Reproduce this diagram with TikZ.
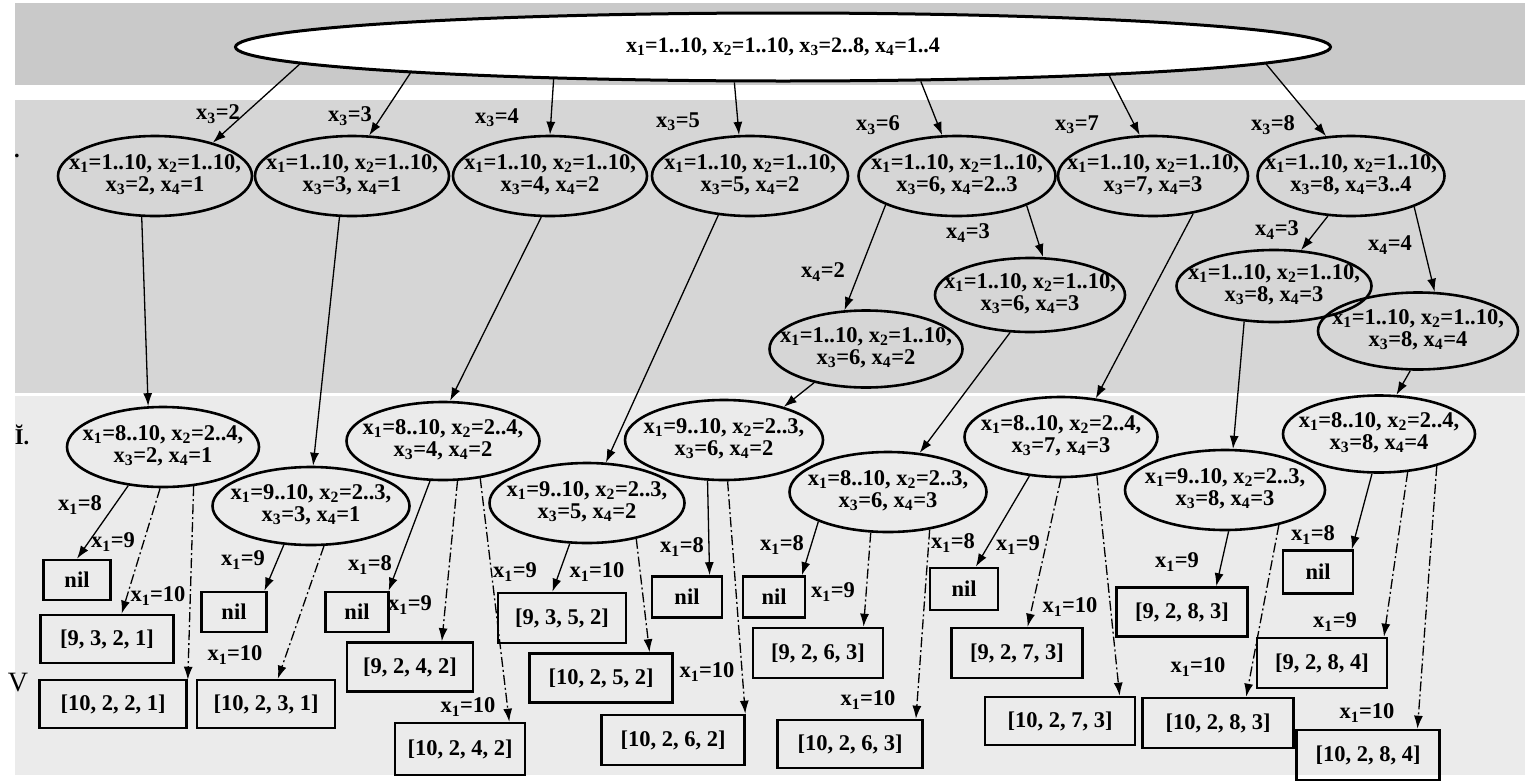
\documentclass[tikz,border=0pt]{standalone}
\usepackage{fontspec}
\setmainfont{Liberation Serif}
\usetikzlibrary{shapes.geometric,arrows.meta}
\newcommand\xv[1]{x\textsubscript{#1}}
\newcommand\twol[2]{\makebox[0pt]{\begin{tabular}{@{}c@{}}#1\\#2\end{tabular}}}
\newcommand\mainfnt{\fontsize{22.5}{21.5}\selectfont\bfseries}
\tikzset{
  ell/.style={draw, ellipse, line width=2.6pt, inner sep=0pt, font=\mainfnt},
  leaf/.style={draw, rectangle, line width=2.6pt, inner sep=0pt, font=\mainfnt},
  esz/.style 2 args={minimum width=#1pt, minimum height=#2pt},
  lbl/.style={inner sep=0pt, font=\mainfnt},
  arr/.style={-{Latex[length=13pt,width=9pt]}, line width=1.3pt},
  darr/.style={arr, dash pattern=on 10pt off 3pt on 2pt off 3pt},
}
\begin{document}
\begin{tikzpicture}[x=1pt,y=-1pt]
\useasboundingbox (0,0) rectangle (1529,782);
\fill[white] (0,0) rectangle (1529,782);
% background bands
\fill[gray!42] (15,3) rectangle (1525,85);
\fill[gray!32] (15,100) rectangle (1525,393);
\fill[gray!16] (15,396) rectangle (1525,775);

% side marks
\node[lbl] (mdot) at (17,156) {.};
\node[lbl] (mI) at (22,435) {\u{I}.};
\node[lbl, font=\fontsize{28}{28}\selectfont] (mV) at (18,683) {V};

% root
\node[ell, fill=white, line width=3pt, esz={1095}{68}, font=\fontsize{22}{22}\selectfont\bfseries] (root) at (783,47)
  {\makebox[0pt]{\xv1=1..10, \xv2=1..10, \xv3=2..8, \xv4=1..4}};

% level 1
\node[ell, esz={194}{80}] (n2) at (155,176) {\twol{\xv1=1..10, \xv2=1..10,}{\xv3=2, \xv4=1}};
\node[ell, esz={194}{80}] (n3) at (352,176) {\twol{\xv1=1..10, \xv2=1..10,}{\xv3=3, \xv4=1}};
\node[ell, esz={194}{80}] (n4) at (550,176) {\twol{\xv1=1..10, \xv2=1..10,}{\xv3=4, \xv4=2}};
\node[ell, esz={196}{80}] (n5) at (750,176) {\twol{\xv1=1..10, \xv2=1..10,}{\xv3=5, \xv4=2}};
\node[ell, esz={197}{80}] (n6) at (957,176) {\twol{\xv1=1..10, \xv2=1..10,}{\xv3=6, \xv4=2..3}};
\node[ell, esz={190}{80}] (n7) at (1153,176) {\twol{\xv1=1..10, \xv2=1..10,}{\xv3=7, \xv4=3}};
\node[ell, esz={187}{80}] (n8) at (1351,176) {\twol{\xv1=1..10, \xv2=1..10,}{\xv3=8, \xv4=3..4}};

% middle
\node[ell, esz={193}{77}] (m62) at (866,349) {\twol{\xv1=1..10, \xv2=1..10,}{\xv3=6, \xv4=2}};
\node[ell, esz={190}{74}] (m63) at (1030,295) {\twol{\xv1=1..10, \xv2=1..10,}{\xv3=6, \xv4=3}};
\node[ell, esz={195}{72}] (m83) at (1274,286) {\twol{\xv1=1..10, \xv2=1..10,}{\xv3=8, \xv4=3}};
\node[ell, esz={200}{77}] (m84) at (1418,331) {\twol{\xv1=1..10, \xv2=1..10,}{\xv3=8, \xv4=4}};

% level 2
\node[ell, esz={192}{80}] (A) at (163,447) {\twol{\xv1=8..10, \xv2=2..4,}{\xv3=2, \xv4=1}};
\node[ell, esz={197}{78}] (B) at (311,506) {\twol{\xv1=9..10, \xv2=2..3,}{\xv3=3, \xv4=1}};
\node[ell, esz={193}{78}] (C) at (443,441) {\twol{\xv1=8..10, \xv2=2..4,}{\xv3=4, \xv4=2}};
\node[ell, esz={195}{80}] (D) at (587,503) {\twol{\xv1=9..10, \xv2=2..3,}{\xv3=5, \xv4=2}};
\node[ell, esz={198}{80}] (E) at (724,440) {\twol{\xv1=9..10, \xv2=2..3,}{\xv3=6, \xv4=2}};
\node[ell, esz={197}{80}] (F) at (888,492) {\twol{\xv1=8..10, \xv2=2..3,}{\xv3=6, \xv4=3}};
\node[ell, esz={193}{80}] (G) at (1061,437) {\twol{\xv1=8..10, \xv2=2..4,}{\xv3=7, \xv4=3}};
\node[ell, esz={200}{80}] (H) at (1225,490) {\twol{\xv1=9..10, \xv2=2..3,}{\xv3=8, \xv4=3}};
\node[ell, esz={192}{77}] (I) at (1379,434) {\twol{\xv1=8..10, \xv2=2..4,}{\xv3=8, \xv4=4}};

% leaves
\node[leaf, esz={67}{40}] (Anil) at (77,580) {nil};
\node[leaf, esz={133}{48}] (b9321) at (107,639) {[9, 3, 2, 1]};
\node[leaf, esz={147}{48}] (b10221) at (113,704) {[10, 2, 2, 1]};
\node[leaf, esz={65}{40}] (Bnil) at (234,612) {nil};
\node[leaf, esz={138}{48}] (b10231) at (266,704) {[10, 2, 3, 1]};
\node[leaf, esz={63}{40}] (Cnil) at (357,612) {nil};
\node[leaf, esz={126}{49}] (b9242) at (410,667) {[9, 2, 4, 2]};
\node[leaf, esz={130}{52}] (b10242) at (460,749) {[10, 2, 4, 2]};
\node[leaf, esz={128}{50}] (b9352) at (562,618) {[9, 3, 5, 2]};
\node[leaf, esz={143}{49}] (b10252) at (601,678) {[10, 2, 5, 2]};
\node[leaf, esz={70}{41}] (Enil) at (687,597) {nil};
\node[leaf, esz={143}{50}] (b10262) at (673,740) {[10, 2, 6, 2]};
\node[leaf, esz={62}{41}] (Fnil) at (774,597) {nil};
\node[leaf, esz={130}{50}] (b9263) at (818,653) {[9, 2, 6, 3]};
\node[leaf, esz={145}{48}] (b10263) at (850,744) {[10, 2, 6, 3]};
\node[leaf, esz={68}{42}] (Gnil) at (964,589) {nil};
\node[leaf, esz={131}{50}] (b9273) at (1017,653) {[9, 2, 7, 3]};
\node[leaf, esz={150}{48}] (b10273) at (1060,721) {[10, 2, 7, 3]};
\node[leaf, esz={131}{49}] (b9283) at (1182,612) {[9, 2, 8, 3]};
\node[leaf, esz={151}{50}] (b10283) at (1218,723) {[10, 2, 8, 3]};
\node[leaf, esz={70}{43}] (Inil) at (1318,572) {nil};
\node[leaf, esz={130}{50}] (b9284) at (1322,663) {[9, 2, 8, 4]};
\node[leaf, esz={143}{50}] (b10284) at (1368,755) {[10, 2, 8, 4]};

% root edges
\draw[arr] (root.182) -- (n2.30);
\draw[arr] (root.184) -- (n3.67);
\draw[arr] (root.188) -- (n4.90);
\draw[arr] (root.216) -- (n5.105);
\draw[arr] (root.346) -- (n6.110);
\draw[arr] (root.355) -- (n7.108);
\draw[arr] (root.358) -- (n8.122);
\node[lbl] (t2) at (218,114) {\xv3=2};
\node[lbl] (t3) at (350,116) {\xv3=3};
\node[lbl] (t4) at (497,118) {\xv3=4};
\node[lbl] (t5) at (678,122) {\xv3=5};
\node[lbl] (t6) at (878,125) {\xv3=6};
\node[lbl] (t7) at (1077,125) {\xv3=7};
\node[lbl] (t8) at (1273,125) {\xv3=8};

% inner edges
\draw[arr] (n2.252) -- (A.110);
\draw[arr] (n3.253) -- (B.87);
\draw[arr] (n4.258) -- (C.80);
\draw[arr] (n5.231) -- (D.65);
\draw[arr] (n6.202) -- (m62.119);
\draw[arr] (n6.337) -- (m63.71);
\draw[arr] (n7.317) -- (G.48);
\draw[arr] (n8.240) -- (m83.53);
\draw[arr] (n8.334) -- (m84.67);
\draw[arr] (m62.213) -- (E.29);
\draw[arr] (m63.242) -- (F.51);
\draw[arr] (m83.230) -- (H.79);
\draw[arr] (m84.259) -- (I.66);
\node[lbl] (u62) at (823,272) {\xv4=2};
\node[lbl] (u63) at (968,233) {\xv4=3};
\node[lbl] (u83) at (1277,230) {\xv4=3};
\node[lbl] (u84) at (1390,245) {\xv4=4};

% leaf edges
\draw[arr] (A.228) -- (Anil.north);
\draw[darr] (A.266) -- (b9321.60);
\draw[darr] (A.308) -- (b10221.18);
\draw[arr] (B.235) -- (Bnil.35);
\draw[darr] (B.288) -- (b10231.65);
\draw[arr] (C.252) -- (Cnil.34);
\draw[darr] (C.290) -- (b9242.39);
\draw[darr] (C.315) -- (b10242.29);
\draw[arr] (D.247) -- (b9352.110);
\draw[darr] (D.324) -- (b10252.28);
\draw[arr] (E.248) -- (Enil.44);
\draw[darr] (E.275) -- (b10262.20);
\draw[arr] (F.203) -- (Fnil.38);
\draw[darr] (F.247) -- (b9263.30);
\draw[darr] (F.318) -- (b10263.21);
\draw[arr] (G.231) -- (Gnil.62);
\draw[darr] (G.270) -- (b9273.68);
\draw[darr] (G.313) -- (b10273.23);
\draw[arr] (H.275) -- (b9283.37);
\draw[darr] (H.327) -- (b10283.43);
\draw[arr] (I.260) -- (Inil.34);
\draw[darr] (I.307) -- (b9284.23);
\draw[darr] (I.331) -- (b10284.28);

% leaf edge labels
\node[lbl] (a8) at (80,505) {\xv1=8};
\node[lbl] (a9) at (113,542) {\xv1=9};
\node[lbl] (a10) at (158,596) {\xv1=10};
\node[lbl] (bb9) at (243,560) {\xv1=9};
\node[lbl] (bb10) at (235,655) {\xv1=10};
\node[lbl] (c8) at (370,565) {\xv1=8};
\node[lbl] (c9) at (410,605) {\xv1=9};
\node[lbl] (c10) at (468,707) {\xv1=10};
\node[lbl] (d9) at (515,572) {\xv1=9};
\node[lbl] (d10) at (597,572) {\xv1=10};
\node[lbl] (e8) at (682,547) {\xv1=8};
\node[lbl] (e10) at (707,672) {\xv1=10};
\node[lbl] (f8) at (782,545) {\xv1=8};
\node[lbl] (f9) at (833,592) {\xv1=9};
\node[lbl] (f10) at (868,700) {\xv1=10};
\node[lbl] (g8) at (953,543) {\xv1=8};
\node[lbl] (g9) at (1018,545) {\xv1=9};
\node[lbl] (g10) at (1070,607) {\xv1=10};
\node[lbl] (h9) at (1177,562) {\xv1=9};
\node[lbl] (h10) at (1198,667) {\xv1=10};
\node[lbl] (i8) at (1313,535) {\xv1=8};
\node[lbl] (i9) at (1335,622) {\xv1=9};
\node[lbl] (i10) at (1367,713) {\xv1=10};
\end{tikzpicture}
\end{document}
